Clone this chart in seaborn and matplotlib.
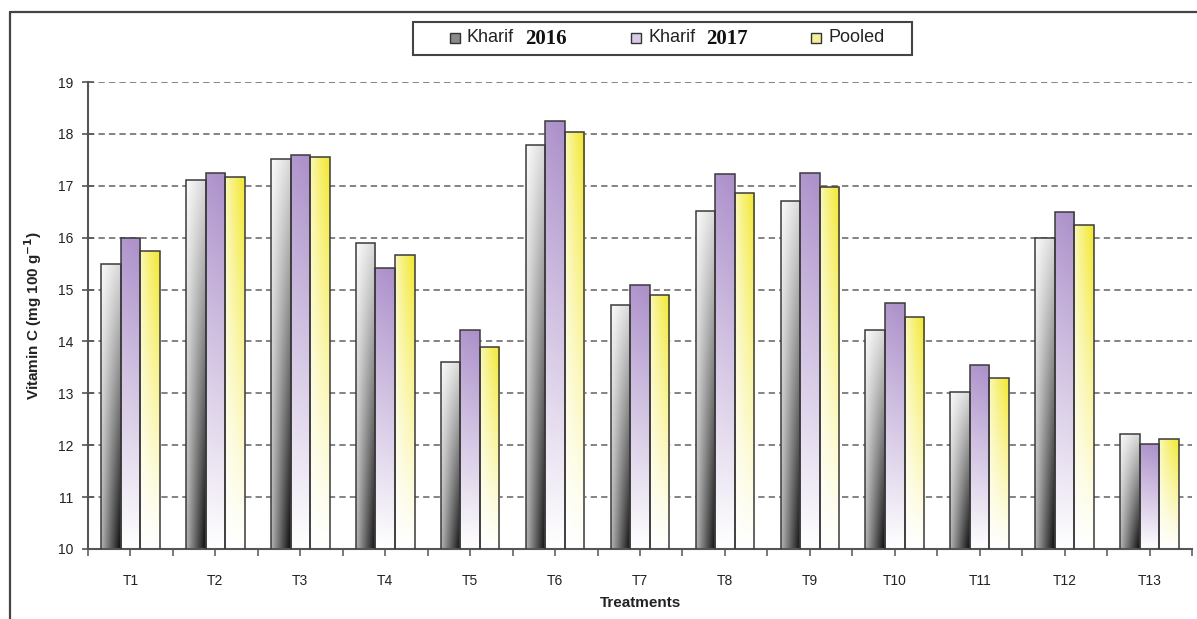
import numpy as np
import pandas as pd
import matplotlib
matplotlib.use("Agg")
import matplotlib.pyplot as plt
from matplotlib.patches import Rectangle
from matplotlib.lines import Line2D
from matplotlib.ticker import FixedLocator
import seaborn as sns

# ---- data -------------------------------------------------------------
treatments = ["T1", "T2", "T3", "T4", "T5", "T6", "T7",
              "T8", "T9", "T10", "T11", "T12", "T13"]
kharif_2016 = [15.50, 17.11, 17.51, 15.90, 13.60, 17.79, 14.71,
               16.52, 16.71, 14.22, 13.03, 16.00, 12.22]
kharif_2017 = [16.00, 17.24, 17.60, 15.41, 14.22, 18.24, 15.08,
               17.22, 17.25, 14.75, 13.55, 16.50, 12.02]
pooled = [15.75, 17.16, 17.55, 15.66, 13.90, 18.03, 14.90,
          16.86, 16.97, 14.48, 13.29, 16.25, 12.12]
series_names = ["Kharif 2016", "Kharif 2017", "Pooled"]
y_ticks = [10, 11, 12, 13, 14, 15, 16, 17, 18, 19]

df = pd.DataFrame({
    "Treatment": treatments * 3,
    "Season": np.repeat(series_names, len(treatments)),
    "Vitamin C": kharif_2016 + kharif_2017 + pooled,
})

# ---- style ------------------------------------------------------------
sns.set_theme(style="white")
plt.rcParams["font.family"] = ["Liberation Sans", "DejaVu Sans"]

W, H = 1197, 619
fig = plt.figure(figsize=(W / 100, H / 100), dpi=100)
fig.patch.set_facecolor("white")


def fx(px):
    return px / W


def fy(py):
    return 1 - py / H


ax = fig.add_axes([fx(88), fy(549), (1192 - 88) / W, (549 - 82) / H])

sns.barplot(data=df, x="Treatment", y="Vitamin C", hue="Season",
            order=treatments, hue_order=series_names, width=0.69, gap=0,
            legend=False, ax=ax, edgecolor="#3a3a3a", linewidth=1.1,
            saturation=1, errorbar=None)

y_min, y_max = y_ticks[0], y_ticks[-1]


# ---- gradient fills ---------------------------------------------------
def gray_fill(n=80, m=24):
    t = np.linspace(0, 1, n)[:, None]
    u = np.linspace(0, 1, m)[None, :]
    g = 0.98 - 0.13 * u - t * (0.28 + 0.52 * u)
    g = np.clip(g, 0, 1)
    return np.dstack([g, g, g])


def purple_fill(n=80, m=24):
    t = np.linspace(0, 1, n)[:, None]
    u = np.linspace(0, 1, m)[None, :]
    top = np.array([0.67, 0.56, 0.79])
    w = (1 - t) ** 0.95 * (0.92 + 0.08 * u)
    return 1 - w[..., None] * (1 - top)


def yellow_fill(n=80, m=24):
    t = np.linspace(0, 1, n)[:, None]
    u = np.linspace(0, 1, m)[None, :]
    top = np.array([0.95, 0.91, 0.18])
    w = (1 - t) ** 1.1 * (0.30 + 0.70 * u ** 0.8)
    return 1 - w[..., None] * (1 - top)


fills = [gray_fill(), purple_fill(), yellow_fill()]

for container, img in zip(ax.containers, fills):
    for bar in container:
        x0 = bar.get_x()
        w = bar.get_width()
        top = bar.get_y() + bar.get_height()
        bar.set_facecolor("none")
        bar.set_zorder(3)
        im = ax.imshow(img, extent=(x0, x0 + w, y_min, top), origin="upper",
                       aspect="auto", interpolation="bilinear", zorder=2.5)
        im.set_clip_path(bar)

# ---- axes -------------------------------------------------------------
ax.set_xlim(-0.5, len(treatments) - 0.5)
ax.set_ylim(y_min, y_max)
ax.set_yticks(y_ticks)
ax.set_yticklabels([str(v) for v in y_ticks])
ax.xaxis.set_minor_locator(FixedLocator(np.arange(-0.5, len(treatments), 1.0)))

ax.yaxis.grid(True, linestyle=(0, (3.5, 2.3)), color="#7a7a7a", linewidth=1.3)
ax.xaxis.grid(False)
ax.set_axisbelow(True)

for side in ["top", "right"]:
    ax.spines[side].set_visible(False)
for side in ["left", "bottom"]:
    ax.spines[side].set_color("#555555")
    ax.spines[side].set_linewidth(1.5)

ax.tick_params(axis="y", which="major", direction="inout", length=9,
               width=1.2, color="#555555", labelsize=10, labelcolor="#222222",
               pad=6, left=True)
ax.tick_params(axis="x", which="both", direction="out", length=5,
               width=1.1, color="#555555", bottom=True)
ax.tick_params(axis="x", which="major", labelsize=10, labelcolor="#222222",
               pad=13)

ax.set_xlabel("Treatments", fontsize=11, fontweight="bold", color="#222222")
ax.set_ylabel(r"Vitamin C (mg 100 g$^{\mathbf{-1}}$)", fontsize=11,
              fontweight="bold", color="#222222")
ax.xaxis.set_label_coords(0.5, -0.100)
ax.yaxis.set_label_coords(-0.040, 0.5)

# ---- outer frame ------------------------------------------------------
fig.add_artist(Line2D([fx(10), fx(W + 5)], [fy(12), fy(12)],
                      transform=fig.transFigure, color="#444444", lw=1.6))
fig.add_artist(Line2D([fx(10), fx(10)], [fy(12), fy(H + 5)],
                      transform=fig.transFigure, color="#444444", lw=1.6))

# ---- legend -----------------------------------------------------------
fig.add_artist(Rectangle((fx(413), fy(55)), fx(912) - fx(413), fy(22) - fy(55),
                         transform=fig.transFigure, facecolor="white",
                         edgecolor="#444444", lw=1.5, zorder=5))

legend_swatches = ["#8a8a8a", "#d9cbe8", "#f3ef9a"]
swatch_x = [450, 631, 811]
kharif_x = [467, 649, None]
year_x = [525, 706, None]
years = ["2016", "2017", None]
y_mid = 38

for i in range(3):
    fig.add_artist(Rectangle((fx(swatch_x[i]), fy(y_mid + 5)), 10 / W, 10 / H,
                             transform=fig.transFigure,
                             facecolor=legend_swatches[i],
                             edgecolor="#333333", lw=1.0, zorder=6))
    if years[i] is not None:
        fig.text(fx(kharif_x[i]), fy(y_mid), "Kharif", fontsize=13,
                 color="#222222", va="center", ha="left", zorder=6)
        fig.text(fx(year_x[i]), fy(y_mid + 1), years[i], fontsize=15,
                 family=["Liberation Serif", "DejaVu Serif"], fontweight="bold",
                 color="#111111", va="center", ha="left", zorder=6)
    else:
        fig.text(fx(829), fy(y_mid), "Pooled", fontsize=13,
                 color="#222222", va="center", ha="left", zorder=6)

fig.savefig("out.png", dpi=100, facecolor="white")
